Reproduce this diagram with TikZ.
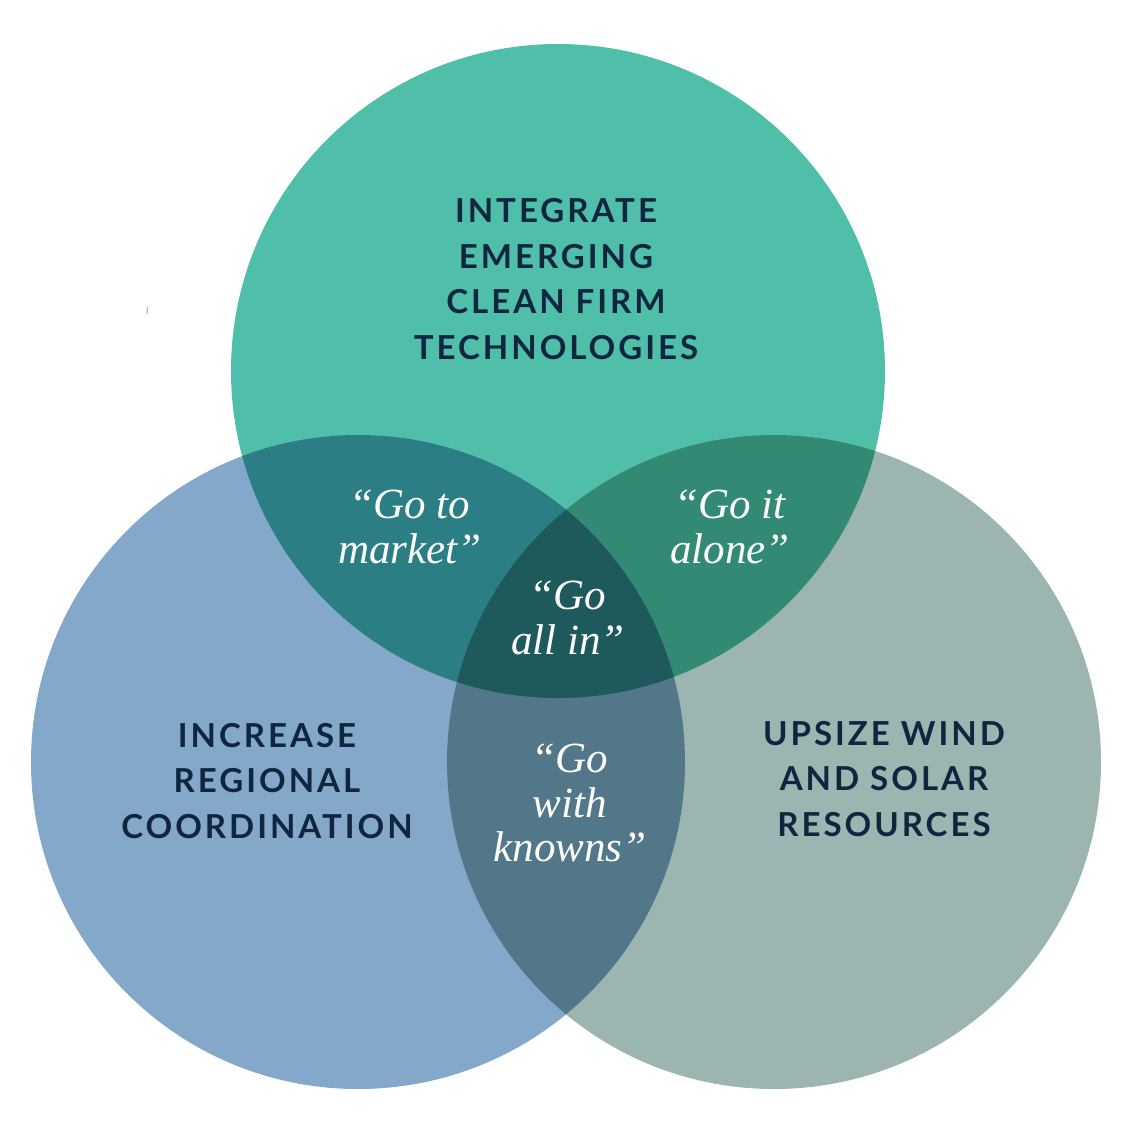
\documentclass[tikz,border=0pt]{standalone}
\usepackage{fontspec}
\setmainfont{Liberation Serif}
\newfontfamily\capsfont[LetterSpace=9]{Lato}
\newfontfamily\quotefont{Liberation Serif}
\definecolor{topc}{HTML}{4FBFA9}
\definecolor{leftc}{HTML}{84A8C9}
\definecolor{rightc}{HTML}{9DB5B0}
\definecolor{tlc}{HTML}{2A7E84}
\definecolor{trc}{HTML}{328A74}
\definecolor{lrc}{HTML}{517789}
\definecolor{allc}{HTML}{1E5A5C}
\definecolor{navy}{HTML}{10253F}
\tikzset{
  capslabel/.style={text=navy, align=center, font=\capsfont\bfseries\fontsize{18.8}{26}\selectfont, inner sep=0pt},
  quotelabel/.style={text=white, align=center, font=\quotefont\itshape\fontsize{24.5}{25.5}\selectfont, inner sep=0pt},
}
\begin{document}
\begin{tikzpicture}[x=0.02cm,y=-0.02cm]
\useasboundingbox (0,0) rectangle (1137,1137);
\coordinate (T) at (558,371);
\coordinate (L) at (358,762);
\coordinate (R) at (774,762);
\def\rr{327}
\fill[topc] (T) circle [radius=\rr];
\fill[leftc] (L) circle [radius=\rr];
\fill[rightc] (R) circle [radius=\rr];
\begin{scope}
  \clip (T) circle [radius=\rr];
  \fill[tlc] (L) circle [radius=\rr];
  \fill[trc] (R) circle [radius=\rr];
\end{scope}
\begin{scope}
  \clip (L) circle [radius=\rr];
  \fill[lrc] (R) circle [radius=\rr];
  \clip (R) circle [radius=\rr];
  \fill[allc] (T) circle [radius=\rr];
\end{scope}
\draw[gray!60, line width=0.6pt] (147.5,307) -- (147,314);
\node[capslabel] (top) at (556,279) {INTEGRATE\\EMERGING\\CLEAN FIRM\\TECHNOLOGIES};
\node[capslabel] (left) at (267,781) {INCREASE\\REGIONAL\\COORDINATION};
\node[capslabel] (right) at (884,779) {UPSIZE WIND\\AND SOLAR\\RESOURCES};
\node[quotelabel] (tl) at (410,527) {“Go to\\market”};
\node[quotelabel] (tr) at (730,527) {“Go it\\alone”};
\node[quotelabel] (all) at (568,618) {“Go\\all in”};
\node[quotelabel] (lr) at (570,803) {“Go\\with\\knowns”};
\end{tikzpicture}
\end{document}
